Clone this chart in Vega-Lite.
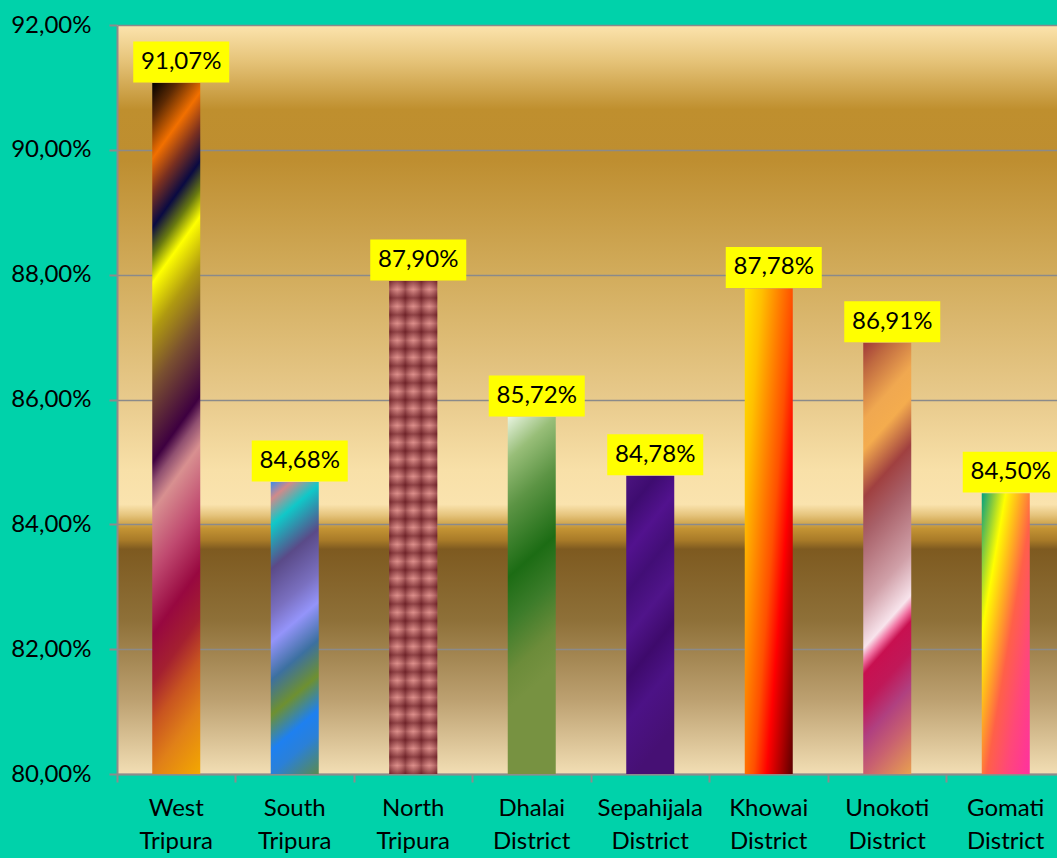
{
  "$schema": "https://vega.github.io/schema/vega-lite/v6.json",
  "width": 940,
  "height": 749,
  "autosize": {"type": "none"},
  "padding": {"left": 117, "top": 25, "right": 0, "bottom": 84},
  "background": "#00D2AA",
  "view": {
    "stroke": null,
    "fill": {
      "gradient": "linear", "x1": 0, "y1": 0, "x2": 0, "y2": 1,
      "stops": [
        {"offset": 0, "color": "#FCE4AE"},
        {"offset": 0.047, "color": "#E6C47A"},
        {"offset": 0.113, "color": "#BF8F2E"},
        {"offset": 0.18, "color": "#BE8E30"},
        {"offset": 0.334, "color": "#D2AC5C"},
        {"offset": 0.5, "color": "#E8CA8C"},
        {"offset": 0.594, "color": "#F8E0A8"},
        {"offset": 0.64, "color": "#FAE3AE"},
        {"offset": 0.654, "color": "#E6C57E"},
        {"offset": 0.672, "color": "#C49434"},
        {"offset": 0.688, "color": "#A87A28"},
        {"offset": 0.70, "color": "#7E5A20"},
        {"offset": 0.794, "color": "#8E7038"},
        {"offset": 0.9, "color": "#BCA070"},
        {"offset": 1, "color": "#F2DEB4"}
      ]
    }
  },
  "config": {
    "locale": {"number": {"decimal": ",", "thousands": ".", "grouping": [3], "currency": ["", " €"]}},
    "font": "Lato",
    "axis": {"labelFont": "Lato", "labelFontSize": 24, "labelColor": "#000000", "title": null}
  },
  "data": {
    "values": [
      {"district": "West Tripura", "value": 0.9107},
      {"district": "South Tripura", "value": 0.8468},
      {"district": "North Tripura", "value": 0.8790},
      {"district": "Dhalai District", "value": 0.8572},
      {"district": "Sepahijala District", "value": 0.8478},
      {"district": "Khowai District", "value": 0.8778},
      {"district": "Unokoti District", "value": 0.8691},
      {"district": "Gomati District", "value": 0.8450}
    ]
  },
  "encoding": {
    "x": {
      "field": "district", "type": "nominal", "sort": null,
      "scale": {"paddingInner": 0, "paddingOuter": 0, "range": [0, 948]},
      "axis": {
        "labelAngle": 0, "labelOverlap": false, "labelBound": false, "labelFlush": false,
        "labelExpr": "split(datum.label, ' ')", "labelLineHeight": 33,
        "labelPadding": 14, "tickSize": 8, "tickWidth": 2, "tickColor": "#8C8C8C",
        "domainColor": "#8C8C8C", "domainWidth": 2, "bandPosition": 0, "grid": false
      }
    },
    "y": {
      "field": "value", "type": "quantitative",
      "scale": {"domain": [0.80, 0.92], "zero": false, "nice": false},
      "axis": {
        "values": [0.80, 0.82, 0.84, 0.86, 0.88, 0.90, 0.92], "format": ".2%",
        "grid": true, "gridColor": "#8A8A8A", "gridWidth": 1.6,
        "tickSize": 8, "tickWidth": 2, "tickColor": "#8C8C8C",
        "domainColor": "#8C8C8C", "domainWidth": 2, "labelPadding": 18
      }
    }
  },
  "layer": [
    {
      "transform": [{"filter": "datum.district === 'West Tripura'"}],
      "encoding": {"y2": {"datum": 0.8}},
      "mark": {"type": "bar", "width": 48, "stroke": null, "fill": {
        "gradient": "linear", "x1": 0, "y1": 0, "x2": 0.1054, "y2": 1.0868,
        "stops": [
          {"offset": 0, "color": "#000000"},
          {"offset": 0.046, "color": "#5C2A04"},
          {"offset": 0.1, "color": "#F27000"},
          {"offset": 0.146, "color": "#7A3020"},
          {"offset": 0.191, "color": "#0A0A42"},
          {"offset": 0.228, "color": "#6A7A10"},
          {"offset": 0.264, "color": "#FFFF00"},
          {"offset": 0.328, "color": "#B09A10"},
          {"offset": 0.401, "color": "#7A5030"},
          {"offset": 0.501, "color": "#3E0040"},
          {"offset": 0.529, "color": "#905070"},
          {"offset": 0.565, "color": "#D89090"},
          {"offset": 0.647, "color": "#C04A70"},
          {"offset": 0.729, "color": "#980840"},
          {"offset": 0.793, "color": "#A42030"},
          {"offset": 0.848, "color": "#C85420"},
          {"offset": 0.912, "color": "#E08018"},
          {"offset": 1, "color": "#F4A800"}
        ]}}
    },
    {
      "transform": [{"filter": "datum.district === 'South Tripura'"}],
      "encoding": {"y2": {"datum": 0.8}},
      "mark": {"type": "bar", "width": 48, "stroke": null, "fill": {
        "gradient": "linear", "x1": 0, "y1": 0, "x2": 0.1565, "y2": 1.118,
        "stops": [
          {"offset": 0, "color": "#3C8CE8"},
          {"offset": 0.053, "color": "#D08A8A"},
          {"offset": 0.132, "color": "#10C8C8"},
          {"offset": 0.263, "color": "#5A4A88"},
          {"offset": 0.395, "color": "#7A70C0"},
          {"offset": 0.482, "color": "#9494FA"},
          {"offset": 0.596, "color": "#3C70A0"},
          {"offset": 0.702, "color": "#6E9030"},
          {"offset": 0.807, "color": "#1E80F0"},
          {"offset": 0.877, "color": "#2A80D8"},
          {"offset": 1, "color": "#5A8A50"}
        ]}}
    },
    {
      "transform": [{"filter": "datum.district === 'North Tripura'"}],
      "encoding": {"y2": {"datum": 0.8}},
      "mark": {"type": "bar", "width": 48, "stroke": null, "fill": {
        "gradient": "linear", "x1": 0, "y1": 0, "x2": 0, "y2": 1,
        "stops": [
          {"offset": 0, "color": "#6E2228"}, {"offset": 0.0172, "color": "#DC8E8A"},
          {"offset": 0.0345, "color": "#6E2228"}, {"offset": 0.0517, "color": "#DC8E8A"},
          {"offset": 0.069, "color": "#6E2228"}, {"offset": 0.0862, "color": "#DC8E8A"},
          {"offset": 0.1034, "color": "#6E2228"}, {"offset": 0.1207, "color": "#DC8E8A"},
          {"offset": 0.1379, "color": "#6E2228"}, {"offset": 0.1552, "color": "#DC8E8A"},
          {"offset": 0.1724, "color": "#6E2228"}, {"offset": 0.1897, "color": "#DC8E8A"},
          {"offset": 0.2069, "color": "#6E2228"}, {"offset": 0.2241, "color": "#DC8E8A"},
          {"offset": 0.2414, "color": "#6E2228"}, {"offset": 0.2586, "color": "#DC8E8A"},
          {"offset": 0.2759, "color": "#6E2228"}, {"offset": 0.2931, "color": "#DC8E8A"},
          {"offset": 0.3103, "color": "#6E2228"}, {"offset": 0.3276, "color": "#DC8E8A"},
          {"offset": 0.3448, "color": "#6E2228"}, {"offset": 0.3621, "color": "#DC8E8A"},
          {"offset": 0.3793, "color": "#6E2228"}, {"offset": 0.3966, "color": "#DC8E8A"},
          {"offset": 0.4138, "color": "#6E2228"}, {"offset": 0.431, "color": "#DC8E8A"},
          {"offset": 0.4483, "color": "#6E2228"}, {"offset": 0.4655, "color": "#DC8E8A"},
          {"offset": 0.4828, "color": "#6E2228"}, {"offset": 0.5, "color": "#DC8E8A"},
          {"offset": 0.5172, "color": "#6E2228"}, {"offset": 0.5345, "color": "#DC8E8A"},
          {"offset": 0.5517, "color": "#6E2228"}, {"offset": 0.569, "color": "#DC8E8A"},
          {"offset": 0.5862, "color": "#6E2228"}, {"offset": 0.6034, "color": "#DC8E8A"},
          {"offset": 0.6207, "color": "#6E2228"}, {"offset": 0.6379, "color": "#DC8E8A"},
          {"offset": 0.6552, "color": "#6E2228"}, {"offset": 0.6724, "color": "#DC8E8A"},
          {"offset": 0.6897, "color": "#6E2228"}, {"offset": 0.7069, "color": "#DC8E8A"},
          {"offset": 0.7241, "color": "#6E2228"}, {"offset": 0.7414, "color": "#DC8E8A"},
          {"offset": 0.7586, "color": "#6E2228"}, {"offset": 0.7759, "color": "#DC8E8A"},
          {"offset": 0.7931, "color": "#6E2228"}, {"offset": 0.8103, "color": "#DC8E8A"},
          {"offset": 0.8276, "color": "#6E2228"}, {"offset": 0.8448, "color": "#DC8E8A"},
          {"offset": 0.8621, "color": "#6E2228"}, {"offset": 0.8793, "color": "#DC8E8A"},
          {"offset": 0.8966, "color": "#6E2228"}, {"offset": 0.9138, "color": "#DC8E8A"},
          {"offset": 0.931, "color": "#6E2228"}, {"offset": 0.9483, "color": "#DC8E8A"},
          {"offset": 0.9655, "color": "#6E2228"}, {"offset": 0.9828, "color": "#DC8E8A"},
          {"offset": 1, "color": "#6E2228"}
        ]}}
    },
    {
      "transform": [{"filter": "datum.district === 'North Tripura'"}],
      "encoding": {"y2": {"datum": 0.8}},
      "mark": {"type": "bar", "width": 48, "stroke": null, "fill": {
        "gradient": "linear", "x1": 0, "y1": 0, "x2": 1, "y2": 0,
        "stops": [
          {"offset": 0, "color": "rgba(110,34,40,0.55)"},
          {"offset": 0.1667, "color": "rgba(220,142,138,0.3)"},
          {"offset": 0.3333, "color": "rgba(110,34,40,0.55)"},
          {"offset": 0.5, "color": "rgba(220,142,138,0.3)"},
          {"offset": 0.6667, "color": "rgba(110,34,40,0.55)"},
          {"offset": 0.8333, "color": "rgba(220,142,138,0.3)"},
          {"offset": 1, "color": "rgba(110,34,40,0.55)"}
        ]}}
    },
    {
      "transform": [{"filter": "datum.district === 'Dhalai District'"}],
      "encoding": {"y2": {"datum": 0.8}},
      "mark": {"type": "bar", "width": 48, "stroke": null, "fill": {
        "gradient": "linear", "x1": 0, "y1": 0, "x2": 0.1325, "y2": 1.104,
        "stops": [
          {"offset": 0, "color": "#E8F4E0"},
          {"offset": 0.107, "color": "#98BE78"},
          {"offset": 0.232, "color": "#5C9444"},
          {"offset": 0.402, "color": "#1C6C14"},
          {"offset": 0.518, "color": "#3C7C2A"},
          {"offset": 0.643, "color": "#6C8C3A"},
          {"offset": 0.732, "color": "#779241"},
          {"offset": 1, "color": "#779241"}
        ]}}
    },
    {
      "transform": [{"filter": "datum.district === 'Sepahijala District'"}],
      "encoding": {"y2": {"datum": 0.8}},
      "mark": {"type": "bar", "width": 48, "stroke": null, "fill": {
        "gradient": "linear", "x1": 0, "y1": 0, "x2": 0.2, "y2": 1,
        "stops": [
          {"offset": 0, "color": "#4C1480"},
          {"offset": 0.12, "color": "#3E0C70"},
          {"offset": 0.25, "color": "#52128E"},
          {"offset": 0.38, "color": "#420E76"},
          {"offset": 0.52, "color": "#50148A"},
          {"offset": 0.66, "color": "#3E0A6C"},
          {"offset": 0.8, "color": "#4C1286"},
          {"offset": 1, "color": "#461074"}
        ]}}
    },
    {
      "transform": [{"filter": "datum.district === 'Khowai District'"}],
      "encoding": {"y2": {"datum": 0.8}},
      "mark": {"type": "bar", "width": 48, "stroke": null, "fill": {
        "gradient": "linear", "x1": 0, "y1": 0, "x2": 1.089, "y2": 0.891,
        "stops": [
          {"offset": 0, "color": "#FFE800"},
          {"offset": 0.2, "color": "#FFC000"},
          {"offset": 0.35, "color": "#FF9000"},
          {"offset": 0.55, "color": "#FF5000"},
          {"offset": 0.7, "color": "#FF0000"},
          {"offset": 0.85, "color": "#B00000"},
          {"offset": 1, "color": "#5A0000"}
        ]}}
    },
    {
      "transform": [{"filter": "datum.district === 'Unokoti District'"}],
      "encoding": {"y2": {"datum": 0.8}},
      "mark": {"type": "bar", "width": 48, "stroke": null, "fill": {
        "gradient": "linear", "x1": 0, "y1": 0, "x2": 0.1385, "y2": 1.1077,
        "stops": [
          {"offset": 0, "color": "#A03838"},
          {"offset": 0.062, "color": "#C06A40"},
          {"offset": 0.16, "color": "#F0A850"},
          {"offset": 0.222, "color": "#F4AC4E"},
          {"offset": 0.32, "color": "#A04040"},
          {"offset": 0.4, "color": "#A86068"},
          {"offset": 0.542, "color": "#D0A0A8"},
          {"offset": 0.631, "color": "#F8E4EC"},
          {"offset": 0.658, "color": "#F070A0"},
          {"offset": 0.684, "color": "#C81050"},
          {"offset": 0.747, "color": "#C01858"},
          {"offset": 0.818, "color": "#B04080"},
          {"offset": 0.889, "color": "#C86070"},
          {"offset": 1, "color": "#E8A050"}
        ]}}
    },
    {
      "transform": [{"filter": "datum.district === 'Gomati District'"}],
      "encoding": {"y2": {"datum": 0.8}},
      "mark": {"type": "bar", "width": 48, "stroke": null, "fill": {
        "gradient": "linear", "x1": 0, "y1": 0, "x2": 1, "y2": 1,
        "stops": [
          {"offset": 0, "color": "#00A080"},
          {"offset": 0.12, "color": "#80C840"},
          {"offset": 0.25, "color": "#FFFF00"},
          {"offset": 0.4, "color": "#FFB020"},
          {"offset": 0.55, "color": "#FF6048"},
          {"offset": 0.75, "color": "#FF4878"},
          {"offset": 1, "color": "#FF30A0"}
        ]}}
    },
    {
      "mark": {
        "type": "point", "filled": true, "fill": "#FFFF00", "opacity": 1, "stroke": null,
        "shape": "M-1,-0.427H1V0.427H-1Z", "size": 9216, "yOffset": -21, "xOffset": 5
      }
    },
    {
      "mark": {
        "type": "text", "font": "Lato", "fontSize": 24, "color": "#000000",
        "baseline": "middle", "align": "center", "yOffset": -21, "xOffset": 5
      },
      "encoding": {"text": {"field": "value", "type": "quantitative", "format": ".2%"}}
    }
  ]
}
